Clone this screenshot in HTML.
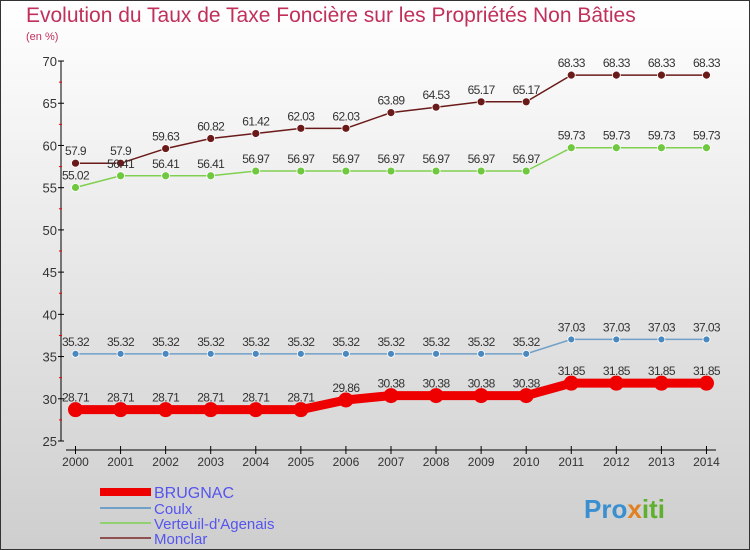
<!DOCTYPE html>
<html><head><meta charset="utf-8"><style>
body{margin:0;width:750px;height:550px;overflow:hidden;font-family:"Liberation Sans",sans-serif}
svg{display:block}
</style></head><body>
<svg width="750" height="550">
<defs><linearGradient id="bg" x1="0" y1="0" x2="0" y2="1"><stop offset="0" stop-color="#ffffff"/><stop offset="1" stop-color="#cecece"/></linearGradient></defs>
<rect x="0.5" y="0.5" width="749" height="549" fill="url(#bg)" stroke="#333"/>
<text x="26" y="22" font-size="21" fill="#c0305a">Evolution du Taux de Taxe Foncière sur les Propriétés Non Bâties</text>
<text x="26" y="40" font-size="11" fill="#c0305a">(en %)</text>
<g id="axes"></g><g id="series"></g><g id="legend"></g>
<text x="584" y="518" font-size="26" font-weight="bold" fill="#3a8fd0">Pro<tspan fill="#e08020">x</tspan><tspan fill="#60b030">iti</tspan></text>
</svg>
<script>
const years=[2000,2001,2002,2003,2004,2005,2006,2007,2008,2009,2010,2011,2012,2013,2014];
const yTicks=[25,30,35,40,45,50,55,60,65,70];
const brugnac=[28.71,28.71,28.71,28.71,28.71,28.71,29.86,30.38,30.38,30.38,30.38,31.85,31.85,31.85,31.85];
const coulx=[35.32,35.32,35.32,35.32,35.32,35.32,35.32,35.32,35.32,35.32,35.32,37.03,37.03,37.03,37.03];
const verteuil=[55.02,56.41,56.41,56.41,56.97,56.97,56.97,56.97,56.97,56.97,56.97,59.73,59.73,59.73,59.73];
const monclar=[57.9,57.9,59.63,60.82,61.42,62.03,62.03,63.89,64.53,65.17,65.17,68.33,68.33,68.33,68.33];
const NS="http://www.w3.org/2000/svg";
const X=i=>75.5+i*45.07, Y=v=>441-(v-25)*8.444;
function mk(t,a,p,txt){const e=document.createElementNS(NS,t);for(const k in a)e.setAttribute(k,a[k]);if(txt!=null)e.textContent=txt;p.appendChild(e);return e;}
const ax=document.getElementById('axes');
const yl=mk('line',{x1:61,y1:61,x2:61,y2:441,stroke:'#000'},ax);


yTicks.forEach(v=>{mk('line',{x1:58,x2:64,y1:Y(v),y2:Y(v),stroke:'#000'},ax);
 if(v<70)mk('line',{x1:59,x2:62,y1:Y(v+2.5),y2:Y(v+2.5),stroke:'#e00'},ax);
 const t=mk('text',{x:57,y:Y(v)+5,'font-size':13,'text-anchor':'end',fill:'#333'},ax,v);
 
 });
const xl=mk('line',{x1:66,y1:450,x2:716,y2:450,stroke:'#000'},ax);


years.forEach((y,i)=>{mk('line',{x1:X(i),x2:X(i),y1:446,y2:454,stroke:'#000'},ax);
 const t=mk('text',{x:X(i),y:466,'font-size':12,'text-anchor':'middle',fill:'#333'},ax,y);
 
 });
const sg=document.getElementById('series');
function draw(data,col,fill,w,r,name){
 const g=mk('g',{},sg);
 
 
 mk('polyline',{points:data.map((v,i)=>X(i)+','+Y(v)).join(' '),fill:'none',stroke:col,'stroke-width':w},g);
 data.forEach((v,i)=>{const c=mk('circle',{cx:X(i),cy:Y(v),r:r,fill:fill,stroke:'#fff','stroke-width':w>3?0:0.8},g);
  
  
  const t=mk('text',{x:X(i),y:Y(v)-8,'font-size':12,'text-anchor':'middle',fill:'#333','letter-spacing':'-0.6'},g,String(v));
  
  });
}
draw(monclar,'#6b1a1a','#6b1a1a',1.5,4,'monclar');
draw(verteuil,'#80d050','#70c840',1.5,4,'verteuil');
draw(coulx,'#70a0c8','#4a88c0',1.5,3.5,'coulx');
draw(brugnac,'#ee0000','#ee0000',9,7.5,'brugnac');
const lg=document.getElementById('legend');
[['BRUGNAC','#ee0000',8,492,16],['Coulx','#70a0c8',2,508,15],["Verteuil-d'Agenais",'#90d070',2,523,15],['Monclar','#905050',2,538,15]].forEach(([n,c,w,y,fs])=>{
 const g=mk('g',{},lg);
 
 
 mk('line',{x1:100,x2:151,y1:y,y2:y,stroke:c,'stroke-width':w},g);
 mk('text',{x:154,y:y+6,'font-size':fs,fill:'#5555ee'},g,n);
});
</script>
</body></html>
